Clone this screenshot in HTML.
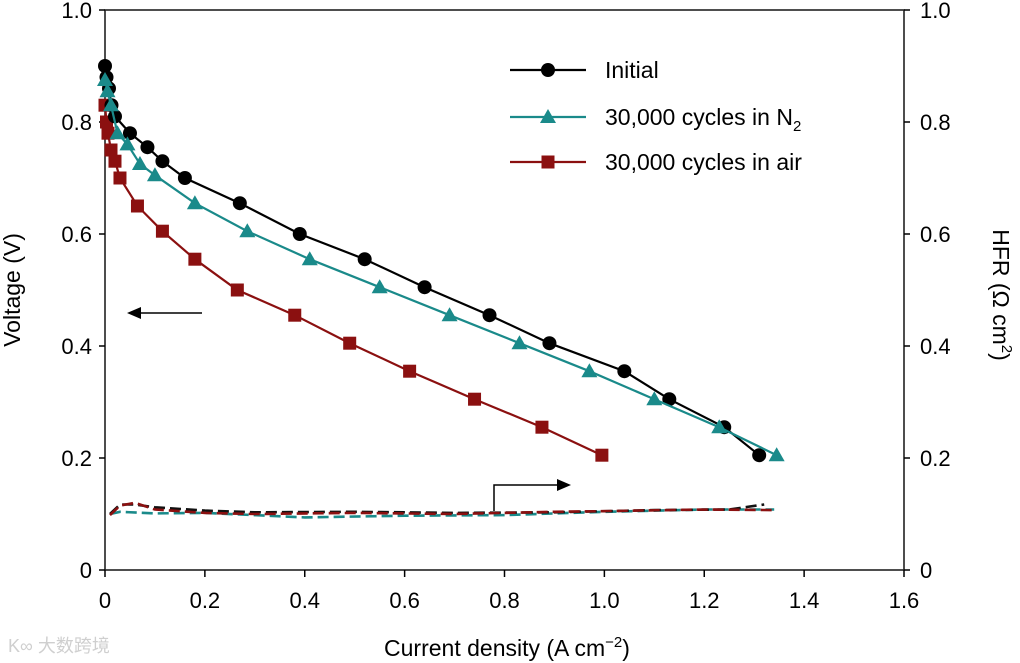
<!DOCTYPE html>
<html><head><meta charset="utf-8"><style>
html,body{margin:0;padding:0;background:#fff;}
svg{display:block;font-family:"Liberation Sans",Arial,sans-serif;}
</style></head><body>
<svg id="chart" width="1020" height="663" viewBox="0 0 1020 663">
<g id="axes"></g><g id="series"></g><g id="legend"></g>
</svg>
<script>
const xTicks=[0,0.2,0.4,0.6,0.8,1.0,1.2,1.4,1.6];
const xTickLabels=["0","0.2","0.4","0.6","0.8","1.0","1.2","1.4","1.6"];
const yTicks=[0,0.2,0.4,0.6,0.8,1.0];
const yTickLabels=["0","0.2","0.4","0.6","0.8","1.0"];
const initX=[0,0.003,0.008,0.013,0.02,0.05,0.085,0.115,0.16,0.27,0.39,0.52,0.64,0.77,0.89,1.04,1.13,1.24,1.31];
const initY=[0.90,0.88,0.86,0.83,0.81,0.78,0.755,0.73,0.70,0.655,0.60,0.555,0.505,0.455,0.405,0.355,0.305,0.255,0.205];
const n2X=[0,0.005,0.012,0.025,0.045,0.07,0.1,0.18,0.285,0.41,0.55,0.69,0.83,0.97,1.10,1.23,1.345];
const n2Y=[0.875,0.855,0.83,0.78,0.76,0.725,0.705,0.655,0.605,0.555,0.505,0.455,0.405,0.355,0.305,0.255,0.205];
const airX=[0,0.003,0.006,0.012,0.02,0.03,0.065,0.115,0.18,0.265,0.38,0.49,0.61,0.74,0.875,0.995];
const airY=[0.83,0.80,0.78,0.75,0.73,0.70,0.65,0.605,0.555,0.50,0.455,0.405,0.355,0.305,0.255,0.205];
const hfrInitX=[0.01,0.03,0.06,0.1,0.2,0.3,0.5,0.7,0.9,1.1,1.25,1.32];
const hfrInitY=[0.10,0.117,0.117,0.112,0.106,0.103,0.104,0.102,0.103,0.107,0.108,0.117];
const hfrN2X=[0.01,0.03,0.1,0.2,0.4,0.6,0.8,1.0,1.2,1.34];
const hfrN2Y=[0.1,0.104,0.101,0.102,0.094,0.097,0.098,0.104,0.108,0.108];
const hfrAirX=[0.01,0.03,0.06,0.1,0.2,0.3,0.5,0.7,0.9,0.99,1.2,1.34];
const hfrAirY=[0.098,0.115,0.12,0.108,0.102,0.1,0.102,0.1,0.104,0.105,0.108,0.107];

const X0=105,X1=904,Y0=570,Y1=10;
const sx=v=>X0+(v/1.6)*(X1-X0);
const sy=v=>Y0-v*(Y0-Y1);
const NS="http://www.w3.org/2000/svg";
function mk(tag,attrs,parent){const e=document.createElementNS(NS,tag);for(const k in attrs)e.setAttribute(k,attrs[k]);parent.appendChild(e);return e;}
const axes=document.getElementById('axes'),ser=document.getElementById('series'),leg=document.getElementById('legend');

let fr=mk('rect',{x:X0,y:Y1,width:X1-X0,height:Y0-Y1,fill:'none',stroke:'#222','stroke-width':1.6},axes);

xTicks.forEach((v,i)=>{
  let t=mk('line',{x1:sx(v),x2:sx(v),y1:Y0,y2:Y0+7,stroke:'#000','stroke-width':1.5},axes);
  
  let l=mk('text',{x:sx(v),y:Y0+38,'text-anchor':'middle','font-size':22},axes);l.textContent=xTickLabels[i];
  
});
yTicks.forEach((v,i)=>{
  let t=mk('line',{x1:X0,x2:X0-6,y1:sy(v),y2:sy(v),stroke:'#000','stroke-width':1.5},axes);
  
  let t2=mk('line',{x1:X1,x2:X1+6,y1:sy(v),y2:sy(v),stroke:'#000','stroke-width':1.5},axes);
  
  let l=mk('text',{x:X0-13,y:sy(v)+8,'text-anchor':'end','font-size':22},axes);l.textContent=yTickLabels[i];
  
  let l2=mk('text',{x:X1+16,y:sy(v)+8,'text-anchor':'start','font-size':22},axes);l2.textContent=yTickLabels[i];
  
});
let xt=mk('text',{x:507,y:656,'text-anchor':'middle','font-size':23},axes);
xt.innerHTML='Current density (A cm<tspan dy="-9" font-size="15">−2</tspan><tspan dy="9">)</tspan>';

let yt=mk('text',{x:0,y:0,'text-anchor':'middle','font-size':23,transform:'translate(20,290) rotate(-90)'},axes);
yt.textContent='Voltage (V)';

let y2=mk('text',{x:0,y:0,'text-anchor':'middle','font-size':23,transform:'translate(993,295) rotate(90)'},axes);
y2.innerHTML='HFR (Ω cm<tspan dy="-9" font-size="15">2</tspan><tspan dy="9">)</tspan>';

let wm=mk('text',{x:8,y:652,'font-size':18,fill:'#cfcfcf','font-family':'"Liberation Sans","Noto Sans CJK SC",sans-serif'},axes);
wm.textContent='K∞ 大数跨境';


function path(xs,ys){return xs.map((x,i)=>(i?'L':'M')+sx(x).toFixed(1)+','+sy(ys[i]).toFixed(1)).join(' ');}
function marker(type,cx,cy,col,parent){
  if(type==='c')return mk('circle',{cx,cy,r:7,fill:col},parent);
  if(type==='s')return mk('rect',{x:cx-6.5,y:cy-6.5,width:13,height:13,fill:col},parent);
  return mk('polygon',{points:`${cx},${cy-8} ${cx-8},${cy+6} ${cx+8},${cy+6}`,fill:col},parent);
}
function dashed(xs,ys,col,name){
  let p=mk('path',{d:path(xs,ys),fill:'none',stroke:col,'stroke-width':2.6,'stroke-dasharray':'11,5'},ser);
  
}
dashed(hfrN2X,hfrN2Y,'#1a8a8a','hfr-n2-line');
dashed(hfrInitX,hfrInitY,'#111','hfr-initial-line');
dashed(hfrAirX,hfrAirY,'#8b1010','hfr-air-line');
function series(xs,ys,col,type,name){
  let g=mk('g',{},ser);
  mk('path',{d:path(xs,ys),fill:'none',stroke:col,'stroke-width':2.2},g);
  xs.forEach((x,i)=>{let m=marker(type,sx(x),sy(ys[i]),col,g);
    });
}
series(airX,airY,'#8b1010','s','air-series');
series(initX,initY,'#000','c','initial-series');
series(n2X,n2Y,'#1a8a8a','t','n2-series');

let a1=mk('g',{},axes);
mk('line',{x1:202,y1:313,x2:138,y2:313,stroke:'#000','stroke-width':1.5},a1);
mk('polygon',{points:'127,313 141,307 141,319',fill:'#000'},a1);
let a2=mk('g',{},axes);
mk('path',{d:'M494,511 L494,485 L560,485',fill:'none',stroke:'#000','stroke-width':1.5},a2);
mk('polygon',{points:'571,485 557,479 557,491',fill:'#000'},a2);

const legItems=[['Initial','#000','c',70],['30,000 cycles in N','#1a8a8a','t',117],['30,000 cycles in air','#8b1010','s',162]];
legItems.forEach((it,i)=>{
  let g=mk('g',{},leg);
  mk('line',{x1:510,x2:586,y1:it[3],y2:it[3],stroke:it[1],'stroke-width':2.2},g);
  marker(it[2],548,it[3],it[1],g);
  let t=mk('text',{x:605,y:it[3]+8,'font-size':23},g);
  t.textContent=it[0];
  if(i===1){let s=mk('tspan',{dy:6,'font-size':15},t);s.textContent='2';}
});
</script>
</body></html>
